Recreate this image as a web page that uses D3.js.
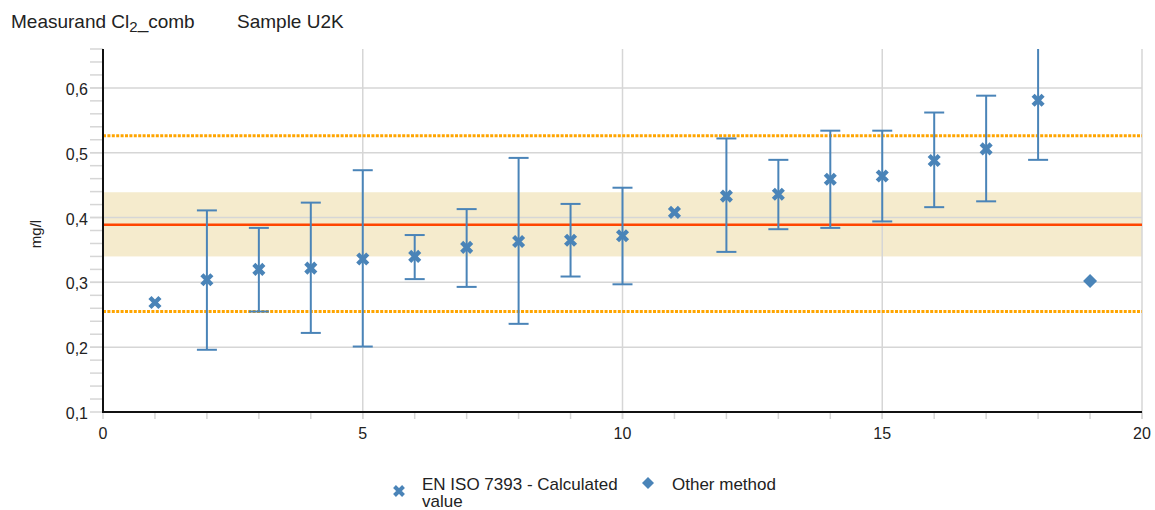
<!DOCTYPE html>
<html><head><meta charset="utf-8">
<script src="https://cdn.jsdelivr.net/npm/d3@7"></script>
<style>body{margin:0;background:#fff;font-family:"Liberation Sans",Arial,sans-serif}</style>
</head><body>
<svg id="c" width="1155" height="510"></svg>
<script>
// Data
const labNo   = [1,2,3,4,5,6,7,8,9,10,11,12,13,14,15,16,17,18];
const labVal  = [0.269,0.304,0.320,0.322,0.336,0.340,0.354,0.363,0.365,0.372,0.408,0.433,0.436,0.459,0.464,0.488,0.506,0.581];
const labLow  = [null,0.196,0.255,0.222,0.201,0.305,0.293,0.236,0.309,0.297,null,0.347,0.382,0.384,0.394,0.416,0.425,0.489];
const labHigh = [null,0.411,0.384,0.423,0.473,0.373,0.413,0.492,0.421,0.446,null,0.522,0.489,0.534,0.534,0.562,0.588,0.673];
const otherNo  = [19];
const otherVal = [0.302];
const assigned = 0.389;
const bandLow = 0.340, bandHigh = 0.439;
const limLow = 0.255, limHigh = 0.526;
const xTicks = [0,5,10,15,20];
const yTicks = [0.1,0.2,0.3,0.4,0.5,0.6];

const svg = d3.select("#c");
const m = {l:103, r:1142, t:49, b:412};
const x = d3.scaleLinear().domain([0,20]).range([m.l, m.r]);
const y = d3.scaleLinear().domain([0.1,0.66]).range([m.b, m.t]);
const blue = "#4a84b8";
const fmt = d => d3.format(".1f")(d).replace(".", ",");

// band
svg.append("rect").attr("x", x(0)).attr("width", x(20)-x(0))
  .attr("y", y(bandHigh)).attr("height", y(bandLow)-y(bandHigh)).attr("fill", "#f5ebcd");

// gridlines
svg.append("g").selectAll("line").data(yTicks.slice(1)).join("line")
  .attr("x1", 90).attr("x2", x(20)).attr("y1", d=>y(d)).attr("y2", d=>y(d))
  .attr("stroke", "#d6d6d6").attr("stroke-width", 1.5);
svg.append("g").selectAll("line").data(xTicks.slice(1)).join("line")
  .attr("x1", d=>x(d)).attr("x2", d=>x(d)).attr("y1", m.t).attr("y2", m.b+7)
  .attr("stroke", "#d6d6d6").attr("stroke-width", 1.5);

// minor y ticks
svg.append("g").selectAll("line").data(d3.range(0.1, 0.661, 0.02)).join("line")
  .attr("x1", 90).attr("x2", m.l).attr("y1", d=>y(d)).attr("y2", d=>y(d))
  .attr("stroke", "#d6d6d6").attr("stroke-width", 1.5);
// minor x ticks
svg.append("g").selectAll("line").data(d3.range(0, 21, 1)).join("line")
  .attr("x1", d=>x(d)).attr("x2", d=>x(d)).attr("y1", m.b).attr("y2", m.b+7)
  .attr("stroke", "#d6d6d6").attr("stroke-width", 1.5);

// limits
[limLow, limHigh].forEach(v => svg.append("line")
  .attr("x1", x(0)).attr("x2", x(20)).attr("y1", y(v)).attr("y2", y(v))
  .attr("stroke", "#ffa500").attr("stroke-width", 3).attr("stroke-dasharray", "3,1.4"));
svg.append("line").attr("x1", x(0)).attr("x2", x(20)).attr("y1", y(assigned)).attr("y2", y(assigned))
  .attr("stroke", "#ff4500").attr("stroke-width", 2.5);

// axes lines
svg.append("line").attr("x1", m.l).attr("x2", m.l).attr("y1", m.t).attr("y2", m.b+1).attr("stroke", "#111").attr("stroke-width", 2);
svg.append("line").attr("x1", m.l-1).attr("x2", m.r).attr("y1", m.b).attr("y2", m.b).attr("stroke", "#111").attr("stroke-width", 2);

// tick labels
svg.append("g").selectAll("text").data(yTicks).join("text")
  .attr("x", 88).attr("y", d=>y(d)+7).attr("text-anchor","end")
  .attr("font-size", 16).attr("fill","#222").text(fmt);
svg.append("g").selectAll("text").data(xTicks).join("text")
  .attr("x", d=>x(d)).attr("y", 439).attr("text-anchor","middle")
  .attr("font-size", 16).attr("fill","#222").text(d=>d);
svg.append("text").attr("transform", `translate(41,234) rotate(-90)`)
  .attr("text-anchor","middle").attr("font-size", 15).attr("fill","#222").text("mg/l");

// clip
svg.append("clipPath").attr("id","clip").append("rect")
  .attr("x", m.l).attr("y", m.t).attr("width", m.r-m.l).attr("height", m.b-m.t);
const g = svg.append("g").attr("clip-path","url(#clip)");

// error bars
const eb = labNo.map((n,i)=>({n, lo:labLow[i], hi:labHigh[i], v:labVal[i]})).filter(d=>d.lo!=null);
g.selectAll(".eb").data(eb).join("line")
  .attr("x1", d=>x(d.n)).attr("x2", d=>x(d.n)).attr("y1", d=>y(d.lo)).attr("y2", d=>y(d.hi))
  .attr("stroke", blue).attr("stroke-width", 2);
g.selectAll(".cl").data(eb).join("line")
  .attr("x1", d=>x(d.n)-10).attr("x2", d=>x(d.n)+10).attr("y1", d=>y(d.lo)).attr("y2", d=>y(d.lo))
  .attr("stroke", blue).attr("stroke-width", 2);
g.selectAll(".ch").data(eb).join("line")
  .attr("x1", d=>x(d.n)-10).attr("x2", d=>x(d.n)+10).attr("y1", d=>y(d.hi)).attr("y2", d=>y(d.hi))
  .attr("stroke", blue).attr("stroke-width", 2);

// X markers
const xPath = "M-5,-5L5,5M-5,5L5,-5";
g.selectAll(".mk").data(labNo.map((n,i)=>({n, v:labVal[i]}))).join("path")
  .attr("transform", d=>`translate(${x(d.n)},${y(d.v)})`).attr("d", xPath)
  .attr("stroke", blue).attr("stroke-width", 4.4).attr("stroke-linecap","butt");
// diamond
g.selectAll(".dm").data(otherNo.map((n,i)=>({n, v:otherVal[i]}))).join("path")
  .attr("transform", d=>`translate(${x(d.n)},${y(d.v)})`).attr("d", "M0,-7L7,0L0,7L-7,0Z")
  .attr("fill", blue);

// title
const t = svg.append("text").attr("x", 11).attr("y", 28).attr("font-size", 19).attr("fill","#222");
t.append("tspan").text("Measurand Cl");
t.append("tspan").attr("font-size", 15).attr("dy", 4).text("2");
t.append("tspan").attr("dy", -4).text("_comb");
svg.append("text").attr("x", 237).attr("y", 28).attr("font-size", 19).attr("fill","#222").text("Sample U2K");

// legend
svg.append("path").attr("transform","translate(399,491)").attr("d", "M-4.5,-4.5L4.5,4.5M-4.5,4.5L4.5,-4.5")
  .attr("stroke", blue).attr("stroke-width", 4);
svg.append("text").attr("x", 422).attr("y", 490).attr("font-size", 17).attr("fill","#222").text("EN ISO 7393 - Calculated");
svg.append("text").attr("x", 422).attr("y", 507).attr("font-size", 17).attr("fill","#222").text("value");
svg.append("path").attr("transform","translate(648,483)").attr("d", "M0,-6L6,0L0,6L-6,0Z").attr("fill", blue);
svg.append("text").attr("x", 672).attr("y", 490).attr("font-size", 17).attr("fill","#222").text("Other method");
</script>
</body></html>
